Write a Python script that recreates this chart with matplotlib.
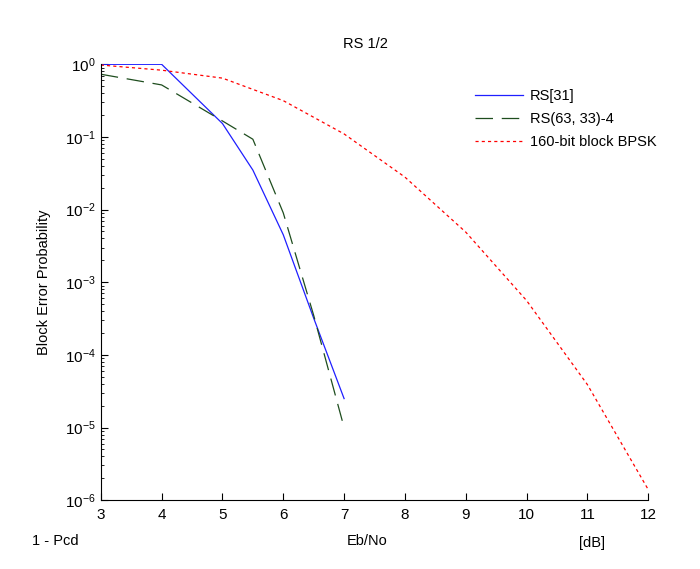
import matplotlib
matplotlib.use("Agg")
import matplotlib.pyplot as plt

plt.rcParams["font.family"] = ["Liberation Sans", "DejaVu Sans"]

# Eb/No [dB]
ebno_rs31 = [3, 4, 5, 5.5, 6, 6.5, 7]
pe_rs31 = [1.0, 1.0, 0.153, 0.035, 4.5e-3, 3.2e-4, 2.5e-5]

ebno_rs63 = [3, 4, 5, 5.5, 6, 6.5, 7]
pe_rs63 = [0.73, 0.52, 0.166, 0.093, 9.0e-3, 3.5e-4, 1.0e-5]

ebno_bpsk = [3, 4, 5, 6, 7, 8, 9, 10, 11, 12]
pe_bpsk = [0.977, 0.83, 0.645, 0.316, 0.11, 0.028, 4.9e-3, 5.6e-4, 3.9e-5, 1.4e-6]

labels = ["RS[31]", "RS(63, 33)-4", "160-bit block BPSK"]

fig = plt.figure(figsize=(7.0, 5.69), dpi=100)
ax = fig.add_axes([0.144, 0.121, 0.782, 0.766])

ax.semilogy(ebno_rs31, pe_rs31, color="#1f1fff", lw=0.9, label=labels[0])
ax.semilogy(ebno_rs63, pe_rs63, color="#1e4d1e", lw=0.9, dashes=(14, 7),
            label=labels[1])
ax.semilogy(ebno_bpsk, pe_bpsk, color="#ff0000", lw=0.9, dashes=(2.5, 2.5),
            label=labels[2])

ax.set_xlim(3, 12)
ax.set_ylim(1e-6, 1)
ax.set_xticks(range(3, 13))

for side in ("top", "right"):
    ax.spines[side].set_visible(False)
ax.tick_params(which="both", direction="in", labelsize=11)
ax.tick_params(which="major", length=5)
ax.tick_params(which="minor", length=2.5)
ax.tick_params(axis="x", pad=6)

ax.set_ylabel("Block Error Probability", fontsize=10.5, labelpad=10)

fig.text(0.522, 0.922, "RS 1/2", ha="center", va="center", fontsize=10.5)
fig.text(0.079, 0.049, "1 - Pcd", ha="center", va="center", fontsize=10.5)
fig.text(0.524, 0.049, "Eb/No", ha="center", va="center", fontsize=10.5)
fig.text(0.846, 0.045, "[dB]", ha="center", va="center", fontsize=10.5)

ax.legend(loc="upper left", bbox_to_anchor=(0.659, 0.973), frameon=False,
          fontsize=10.5, handlelength=3.3, handletextpad=0.5, labelspacing=0.62)

fig.savefig("out.png", dpi=100, facecolor="white")
